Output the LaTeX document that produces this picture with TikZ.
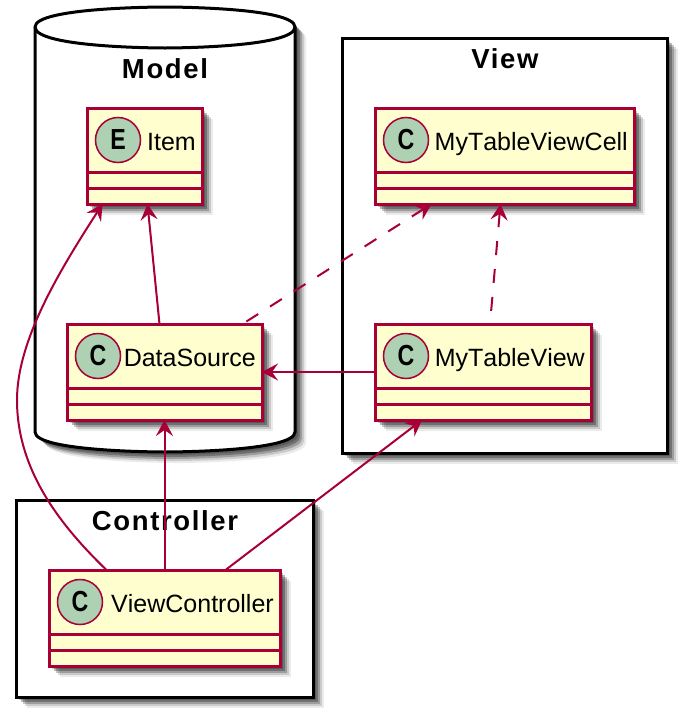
\documentclass[tikz,border=0pt]{standalone}
\usepackage{fontspec}
\setmainfont{Liberation Sans}
\newfontfamily\spotfont[FakeStretch=0.8]{Liberation Sans Bold}
\usetikzlibrary{arrows.meta,shadows}

\definecolor{umlred}{HTML}{A80036}
\definecolor{umlyellow}{HTML}{FEFECE}
\definecolor{umlgreen}{HTML}{ADD1B2}

\tikzset{
  softshadow/.style={
    drop shadow={shadow xshift=11pt, shadow yshift=-11pt, opacity=0.08, fill=black},
    drop shadow={shadow xshift=9pt, shadow yshift=-9pt, opacity=0.14, fill=black},
    drop shadow={shadow xshift=7pt, shadow yshift=-7pt, opacity=0.22, fill=black},
    drop shadow={shadow xshift=5pt, shadow yshift=-5pt, opacity=0.28, fill=black},
    drop shadow={shadow xshift=3pt, shadow yshift=-3pt, opacity=0.2, fill=black}},
  pkgbox/.style={draw=black, fill=white, line width=3pt, outer sep=0pt, softshadow},
  pkgtitle/.style={font=\fontsize{27.5}{27.5}\bfseries\addfontfeature{LetterSpace=6}\selectfont},
  classbox/.style={draw=umlred, fill=umlyellow, line width=3pt, anchor=north west,
    inner sep=0pt, outer sep=0pt, softshadow},
  classlabel/.style={font=\fontsize{25}{25}\addfontfeature{Kerning=Off}\selectfont, anchor=base east, inner sep=0pt},
  spot/.style={circle, draw=umlred, fill=umlgreen, line width=1.5pt, minimum size=45pt,
    inner sep=0pt, font=\spotfont\fontsize{29}{29}\selectfont},
  link/.style={draw=umlred, line width=2pt},
  dashlink/.style={link, dash pattern=on 14pt off 14pt},
}

\begin{document}
\begin{tikzpicture}[x=1pt, y=-1pt, >={Stealth[length=16pt,width=17pt,inset=6pt]}]
  \useasboundingbox (0,0) rectangle (686,718);

  % packages
  \path[pkgbox] (35,27) .. controls (35,7) and (165,7) .. (165,7)
    .. controls (165,7) and (295,7) .. (295,27) -- (295,432)
    .. controls (295,452) and (165,452) .. (165,452)
    .. controls (165,452) and (35,452) .. (35,432) -- cycle;
  \draw[draw=black, line width=3pt] (35,27) .. controls (35,48) and (165,48) .. (165,48)
    .. controls (165,48) and (295,48) .. (295,27);
  \node[pkgbox, anchor=north west, minimum width=325pt, minimum height=415pt] (viewpkg) at (342,38) {};
  \node[pkgbox, anchor=north west, minimum width=297pt, minimum height=197pt] (controllerpkg) at (16,500) {};

  \node[pkgtitle] (modeltitle) at (165,69) {Model};
  \node[pkgtitle] (viewtitle) at (505,59) {View};
  \node[pkgtitle] (controllertitle) at (165,521) {Controller};

  % classes
  \foreach \cname/\letter/\ctext/\xpos/\ypos/\boxw in {
    item/E/Item/87/108/115,
    source/C/DataSource/67/324/195,
    cell/C/MyTableViewCell/375/108/259,
    table/C/MyTableView/375/324/216,
    controller/C/ViewController/49/570/231} {
    \node[classbox, minimum width=\boxw pt, minimum height=96pt] (\cname) at (\xpos,\ypos) {};
    \node[spot] (\cname spot) at ([xshift=31pt,yshift=-32pt]\cname.north west) {\letter};
    \node[classlabel] (\cname label) at ([xshift=-6pt,yshift=-42pt]\cname.north east) {\ctext};
    \draw[draw=umlred, line width=3pt] ([yshift=-64pt]\cname.north west) -- ([yshift=-64pt]\cname.north east);
    \draw[draw=umlred, line width=3pt] ([yshift=-80pt]\cname.north west) -- ([yshift=-80pt]\cname.north east);
  }

  % links
  \coordinate (bend) at (17,400);
  \draw[link, <-] ([xshift=3pt]item.south) -- ([xshift=-5pt]source.north);
  \draw[link, <-] ([xshift=-42pt]item.south) .. controls (60,270) and (17,340) .. (bend)
    .. controls (17,470) and (60,525) .. ([xshift=-58pt]controller.north);
  \draw[link, <-] (source.south) -- (controller.north);
  \draw[dashlink, <-] ([xshift=-73pt]cell.south) -- ([xshift=78pt]source.north);
  \draw[link, <-] (source.east |- table.west) -- (table.west);
  \draw[dashlink, <-] ([xshift=-4pt]cell.south) -- ([xshift=7pt]table.north);
  \draw[link, <-] ([xshift=-61pt]table.south) -- ([xshift=61pt]controller.north);
\end{tikzpicture}
\end{document}
